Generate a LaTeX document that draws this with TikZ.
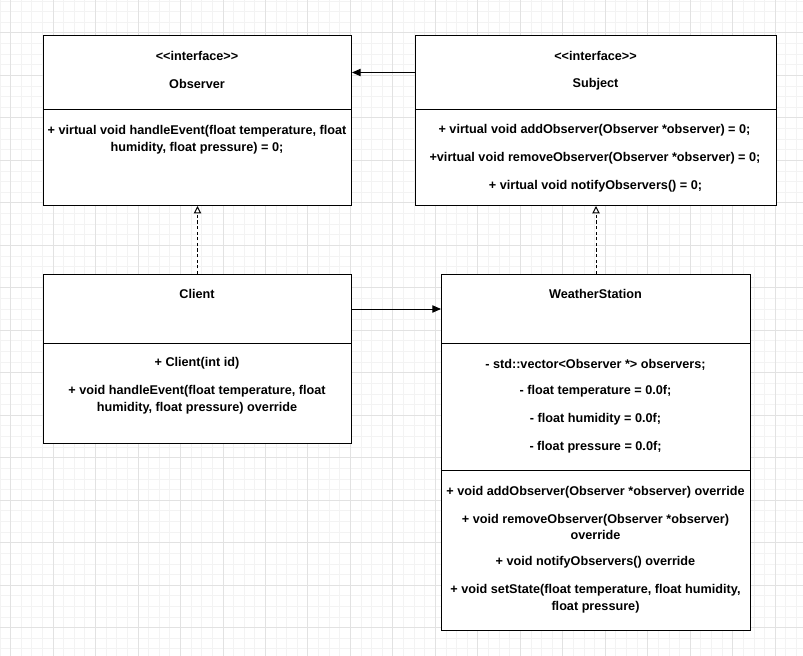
\documentclass[tikz,border=0pt]{standalone}
\usepackage{fontspec}
\setmainfont{Liberation Sans}
\usetikzlibrary{arrows.meta}
\definecolor{gridminor}{RGB}{243,243,243}
\definecolor{gridmajor}{RGB}{226,226,226}
\newcommand{\pxu}{0.75pt}

\begin{document}
\begin{tikzpicture}[x=0.75pt, y=-0.75pt,
  every node/.style={font=\fontsize{9.5}{12.4}\selectfont\bfseries, inner sep=0pt},
  compart/.style={draw=black, line width=0.75pt, fill=white, rectangle, anchor=north west, inner sep=0pt},
  txt/.style={align=center, text=black, yshift=-1.1pt},
  assoc/.style={draw=black, line width=0.75pt, -{Triangle[length=6.5pt,width=5.5pt]}},
  realize/.style={draw=black, line width=0.75pt, dash pattern=on 2.4pt off 1.8pt,
    -{Triangle[open,length=5.5pt,width=5.5pt,fill=white]}}
]
\useasboundingbox (0,0) rectangle (803,656);
\fill[white] (0,0) rectangle (803,656);

% background grid
\foreach \k in {0,...,75}
  \draw[gridminor, line width=0.75pt] (\k*10.62,0) -- (\k*10.62,656);
\foreach \k in {0,...,61}
  \draw[gridminor, line width=0.75pt] (0,1.14+\k*10.62) -- (803,1.14+\k*10.62);
\foreach \k in {0,...,18}
  \draw[gridmajor, line width=0.75pt] (10.62+\k*42.48,0) -- (10.62+\k*42.48,656);
\foreach \k in {0,...,14}
  \draw[gridmajor, line width=0.75pt] (0,33+\k*42.48) -- (803,33+\k*42.48);

% Observer interface
\node[compart, minimum width=308*\pxu, minimum height=74*\pxu] (obsHead) at (43,35) {};
\node[compart, minimum width=308*\pxu, minimum height=96*\pxu] (obsBody) at (43,109) {};
\node[txt] (obsStereo) at (197,55) {<\kern0pt<interface>\kern0pt>};
\node[txt] (obsName) at (197,83) {Observer};
\node[txt] (obsOp) at (197,138.5) {+ virtual void handleEvent(float temperature, float\\humidity, float pressure) = 0;};

% Subject interface
\node[compart, minimum width=361*\pxu, minimum height=74*\pxu] (subHead) at (415,35) {};
\node[compart, minimum width=361*\pxu, minimum height=96*\pxu] (subBody) at (415,109) {};
\node[txt] (subStereo) at (595.5,55) {<\kern0pt<interface>\kern0pt>};
\node[txt] (subName) at (595.5,83) {Subject};
\node[txt] (subOpA) at (594.5,129) {+ virtual void addObserver(Observer *observer) = 0;};
\node[txt] (subOpB) at (595,157) {+virtual void removeObserver(Observer *observer) = 0;};
\node[txt] (subOpC) at (595.5,185) {+ virtual void notifyObservers() = 0;};

% Client class
\node[compart, minimum width=308*\pxu, minimum height=69*\pxu] (cliHead) at (43,274) {};
\node[compart, minimum width=308*\pxu, minimum height=100*\pxu] (cliBody) at (43,343) {};
\node[txt] (cliName) at (197,293) {Client};
\node[txt] (cliOpA) at (197,362) {+ Client(int id)};
\node[txt] (cliOpB) at (197,398.5) {+ void handleEvent(float temperature, float\\humidity, float pressure) override};

% WeatherStation class
\node[compart, minimum width=309*\pxu, minimum height=69*\pxu] (wsHead) at (441,274) {};
\node[compart, minimum width=309*\pxu, minimum height=127*\pxu] (wsAttr) at (441,343) {};
\node[compart, minimum width=309*\pxu, minimum height=160*\pxu] (wsOps) at (441,470) {};
\node[txt] (wsName) at (595.5,293) {WeatherStation};
\node[txt] (wsAttrA) at (595.5,363) {- std::vector<Observer *> observers;};
\node[txt] (wsAttrB) at (595.5,390) {- float temperature = 0.0f;};
\node[txt] (wsAttrC) at (595.5,418) {- float humidity = 0.0f;};
\node[txt] (wsAttrD) at (595.5,446) {- float pressure = 0.0f;};
\node[txt] (wsOpA) at (595.5,491) {+ void addObserver(Observer *observer) override};
\node[txt] (wsOpB) at (595.5,525.5) {+ void removeObserver(Observer *observer)\\override};
\node[txt] (wsOpC) at (595.5,561) {+ void notifyObservers() override};
\node[txt] (wsOpD) at (595.5,597) {+ void setState(float temperature, float humidity,\\float pressure)};

% relations
\draw[assoc] (subHead.west) -- (obsHead.east);
\draw[assoc] (cliHead.east) -- (wsHead.west);
\draw[realize] (cliHead.north) -- (obsBody.south);
\draw[realize] (wsHead.north) -- (subBody.south);
\end{tikzpicture}
\end{document}
